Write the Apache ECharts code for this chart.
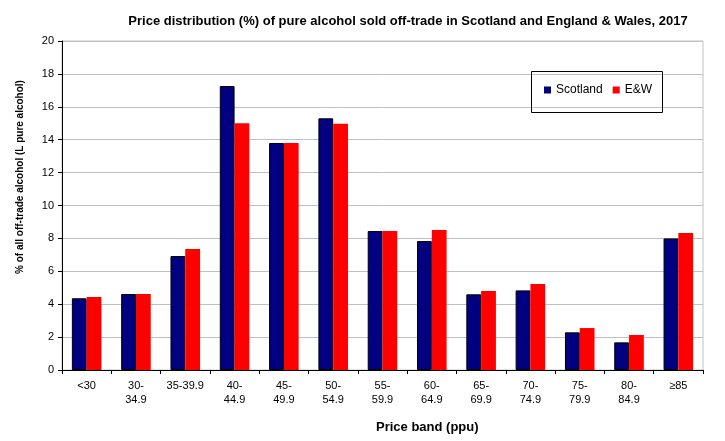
<!DOCTYPE html>
<html>
<head>
<meta charset="utf-8">
<script src="https://cdn.jsdelivr.net/npm/echarts@6/dist/echarts.min.js"></script>
<style>html,body{margin:0;padding:0;background:#fff;}#chart{width:725px;height:441px;}</style>
</head>
<body>
<div id="chart"></div>
<script>
var categories = ['<30', '30-\n34.9', '35-39.9', '40-\n44.9', '45-\n49.9', '50-\n54.9', '55-\n59.9', '60-\n64.9', '65-\n69.9', '70-\n74.9', '75-\n79.9', '80-\n84.9', '≥85'];
var scotland = [4.36, 4.62, 6.93, 17.26, 13.8, 15.3, 8.45, 7.84, 4.6, 4.84, 2.29, 1.68, 8.0];
var ew = [4.44, 4.62, 7.36, 15.0, 13.8, 14.97, 8.45, 8.51, 4.8, 5.23, 2.55, 2.13, 8.33];
var yTicks = [0, 2, 4, 6, 8, 10, 12, 14, 16, 18, 20];

var font = 'Liberation Sans, Arial, sans-serif';
var chart = echarts.init(document.getElementById('chart'), null, {renderer: 'canvas'});
chart.setOption({
  backgroundColor: '#fff',
  animation: false,
  title: {
    text: 'Price distribution (%) of pure alcohol sold off-trade in Scotland and England & Wales, 2017',
    left: 403, top: 10, textAlign: 'center',
    textStyle: {fontFamily: font, fontSize: 13, fontWeight: 'bold', color: '#000'}
  },
  grid: {left: 62, right: 22, top: 41, bottom: 71, show: true, borderColor: '#c0c0c0', borderWidth: 1},
  legend: {
    left: 544, top: 84, padding: 0,
    itemWidth: 7, itemHeight: 7, icon: 'rect', itemGap: 10,
    textStyle: {fontFamily: font, fontSize: 12, color: '#000'},
    itemStyle: {borderWidth: 0},
    data: ['Scotland', 'E&W']
  },
  graphic: [
    {type: 'rect', left: 529, top: 69, shape: {width: 131, height: 41}, style: {fill: 'none', stroke: '#000', lineWidth: 1}, z: 10},
    {type: 'text', left: 376, top: 421, style: {text: 'Price band (ppu)', font: 'bold 13px ' + font, fill: '#000', textAlign: 'center', textVerticalAlign: 'middle'}},
    {type: 'text', x: 20, y: 177, rotation: Math.PI / 2, style: {text: '% of all off-trade alcohol (L pure alcohol)', font: 'bold 10px ' + font, fill: '#000', textAlign: 'center', textVerticalAlign: 'middle'}}
  ],
  xAxis: {
    type: 'category',
    data: categories,
    axisLine: {lineStyle: {color: '#000', width: 1}},
    axisTick: {show: true, length: 4, lineStyle: {color: '#000'}},
    axisLabel: {fontFamily: font, fontSize: 11, color: '#000', margin: 9, lineHeight: 14, interval: 0}
  },
  yAxis: {
    type: 'value',
    min: yTicks[0], max: yTicks[yTicks.length - 1], interval: 2,
    axisLine: {show: true, lineStyle: {color: '#000', width: 1}},
    axisTick: {show: true, length: 4, lineStyle: {color: '#000'}},
    splitLine: {lineStyle: {color: '#c0c0c0', width: 1}},
    axisLabel: {fontFamily: font, fontSize: 11, color: '#000', margin: 8}
  },
  series: [
    {name: 'Scotland', type: 'bar', data: scotland, barGap: '0%', barCategoryGap: '40%',
     itemStyle: {color: '#000080', borderColor: '#000', borderWidth: 1}},
    {name: 'E&W', type: 'bar', data: ew, barGap: '0%', barCategoryGap: '40%',
     itemStyle: {color: '#ff0000', borderWidth: 0}}
  ]
});
</script>
</body>
</html>
